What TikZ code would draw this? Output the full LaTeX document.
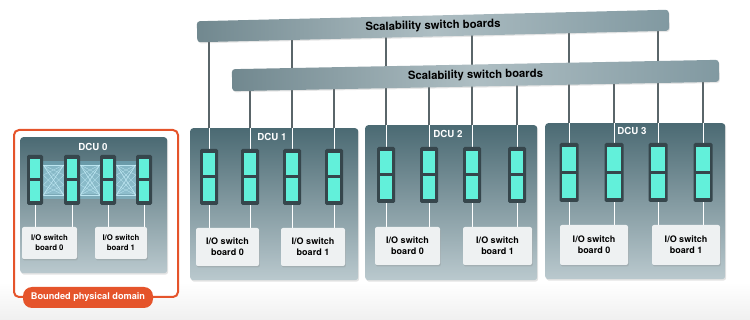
\documentclass[tikz,border=0pt]{standalone}
\usepackage{fontspec}
\setmainfont{TeX Gyre Heros}
\usetikzlibrary{shadows}
\definecolor{panelTop}{HTML}{4B6A73}
\definecolor{panelBot}{HTML}{BAC9CE}
\definecolor{modFrame}{HTML}{36464C}
\definecolor{cyanSeg}{HTML}{62F0DA}
\definecolor{boardFill}{HTML}{EEF1F2}
\definecolor{barL}{HTML}{71888F}
\definecolor{barM}{HTML}{AEBEC3}
\definecolor{barR}{HTML}{8199A1}
\definecolor{wireDark}{HTML}{5A6569}
\definecolor{orangeC}{HTML}{E5542B}
\definecolor{glowC}{HTML}{7FD6F0}
\pgfdeclarelayer{panels}
\pgfdeclarelayer{wires}
\pgfsetlayers{panels,wires,main}
\begin{document}
\begin{tikzpicture}[x=1pt,y=-1pt,
  panel/.style={rounded corners=3pt, top color=panelTop, bottom color=panelBot, inner sep=0pt, anchor=north west,
    drop shadow={opacity=0.22, shadow xshift=1pt, shadow yshift=-1.5pt}},
  modbox/.style={fill=modFrame, rounded corners=1.5pt, inner sep=0pt},
  board/.style={fill=boardFill, rounded corners=2pt, inner sep=0pt, align=center,
    font=\bfseries\fontsize{9}{11.3}\selectfont,
    drop shadow={opacity=0.25, shadow xshift=0.8pt, shadow yshift=-1.5pt}},
  smallboard/.style={board, font=\bfseries\fontsize{7.8}{9.8}\selectfont},
  bar/.style={left color=barL, right color=barR, middle color=barM, rounded corners=3pt, inner sep=0pt,
    font=\bfseries\fontsize{11.3}{13}\selectfont,
    drop shadow={opacity=0.2, shadow xshift=0.8pt, shadow yshift=-1.2pt}},
  dculabel/.style={text=white, inner sep=0pt, font=\bfseries\fontsize{9.7}{11}\selectfont},
  darkwire/.style={draw=wireDark, line width=1.2pt},
  whitewire/.style={draw=white, line width=1pt},
  meshline/.style={draw=glowC!45!white, opacity=0.7, line width=0.4pt},
]
\useasboundingbox (0,0) rectangle (750,320);

% ---------- background, frame and panels ----------
\begin{pgfonlayer}{panels}
  \fill[top color=white, bottom color=black!6] (0,282) rectangle (750,320);
  \node[draw=orangeC, fill=white, line width=2pt, rounded corners=5pt, inner sep=0pt, anchor=north west,
        minimum width=164pt, minimum height=167pt] (dom) at (13,129) {};
  \node[panel, minimum width=147pt, minimum height=136pt] (P0) at (20,137) {};
  \node[panel, minimum width=168pt, minimum height=152pt] (P1) at (190,128) {};
  \node[panel, minimum width=172pt, minimum height=155pt] (P2) at (365,125) {};
  \node[panel, minimum width=180pt, minimum height=156pt] (P3) at (545,123) {};
\end{pgfonlayer}

% ---------- switch boards ----------
\node[bar, minimum width=472pt, minimum height=21pt, rotate=1.4] (topbar) at (433,26) {Scalability switch boards};
\node[bar, minimum width=487pt, minimum height=22pt, rotate=1.1] (bar2) at (475.5,75.5) {Scalability switch boards};

% ---------- modules ----------
\foreach \d/\yc/\h/\w/\xs in {0/180/50/16/{35,72,108,144},
                              1/177/56/18/{209,250,292,334},
                              2/175/56/18/{386,429,472,517},
                              3/172.5/59/19/{569,614,658,703}}{
  \foreach \x [count=\i] in \xs {
    \node[modbox, minimum width=\w pt, minimum height=\h pt] (m\d\i) at (\x,\yc) {};
    \fill[cyanSeg] ([shift={(3pt,-4pt)}]m\d\i.north west) rectangle ([shift={(-3pt,1.5pt)}]m\d\i.east);
    \fill[cyanSeg] ([shift={(3pt,-1.5pt)}]m\d\i.west) rectangle ([shift={(-3pt,4pt)}]m\d\i.south east);
  }
}

% ---------- DCU 0 internal mesh ----------
\begin{pgfonlayer}{wires}
  \foreach \a/\b in {1/2,2/3,3/4}{
    \fill[glowC, opacity=0.35] ([yshift=-6pt]m0\a.north east) rectangle ([yshift=6pt]m0\b.south west);
    \fill[glowC!60!white, opacity=0.35] ([yshift=-11pt]m0\a.north east) rectangle ([yshift=11pt]m0\b.south west);
    \foreach \p in {-15,-5,5,15}{
      \foreach \q in {-15,15}{
        \draw[meshline] ([yshift=\p pt]m0\a.east) -- ([yshift=\q pt]m0\b.west);
        \draw[meshline] ([yshift=\q pt]m0\a.east) -- ([yshift=\p pt]m0\b.west);
      }
    }
  }
\end{pgfonlayer}

% ---------- I/O switch boards ----------
\node[smallboard, minimum width=55pt, minimum height=32pt] (b00) at (49.5,243) {I/O switch\\board 0};
\node[smallboard, minimum width=52pt, minimum height=32pt] (b01) at (121,243) {I/O switch\\board 1};
\node[board, minimum width=63pt, minimum height=38pt] (b10) at (227.5,247) {I/O switch\\board 0};
\node[board, minimum width=64pt, minimum height=38pt] (b11) at (313,247) {I/O switch\\board 1};
\node[board, minimum width=65pt, minimum height=38pt] (b20) at (407.5,246) {I/O switch\\board 0};
\node[board, minimum width=69pt, minimum height=38pt] (b21) at (497.5,246) {I/O switch\\board 1};
\node[board, minimum width=68pt, minimum height=40pt] (b30) at (594,245) {I/O switch\\board 0};
\node[board, minimum width=68pt, minimum height=40pt] (b31) at (686,245) {I/O switch\\board 1};

% ---------- DCU labels ----------
\node[dculabel] (l0) at (93,147) {DCU 0};
\node[dculabel] (l1) at (272,137) {DCU 1};
\node[dculabel] (l2) at (448,134) {DCU 2};
\node[dculabel] (l3) at (632,131) {DCU 3};

% ---------- wires ----------
\begin{pgfonlayer}{wires}
  \foreach \d in {0,1,2,3}{
    \foreach \i/\bb in {1/0,2/0,3/1,4/1}{
      \draw[whitewire] (m\d\i.south) -- (m\d\i.south |- b\d\bb.north);
    }
  }
  \foreach \d in {1,2,3}{
    \foreach \i/\bar in {1/topbar,2/bar2,3/topbar,4/bar2}{
      \draw[darkwire] (m\d\i.north |- P\d.north) -- (m\d\i.north |- \bar.center);
      \draw[whitewire] (m\d\i.north |- P\d.north) -- (m\d\i.north);
    }
  }
\end{pgfonlayer}

% ---------- domain label ----------
\node[fill=orangeC, rounded corners=9pt, text=white, inner sep=0pt, minimum width=130pt, minimum height=21pt,
      font=\bfseries\fontsize{9.2}{11}\selectfont] (pill) at (88,297.5) {Bounded physical domain};
\end{tikzpicture}
\end{document}
